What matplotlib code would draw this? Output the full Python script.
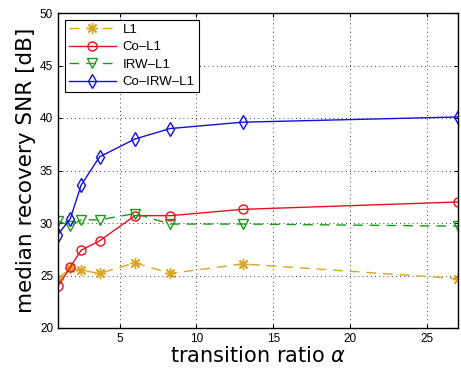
import matplotlib
matplotlib.use('Agg')
import matplotlib.pyplot as plt

# transition ratio values
alpha = [1, 1.8, 2.5, 3.7, 6, 8.3, 13, 27]

# median recovery SNR [dB]
snr_l1 = [24.7, 25.7, 25.5, 25.2, 26.2, 25.2, 26.1, 24.7]
snr_co_l1 = [24.0, 25.8, 27.4, 28.3, 30.7, 30.7, 31.3, 32.0]
snr_irw_l1 = [30.2, 29.7, 30.3, 30.3, 30.9, 29.9, 29.9, 29.7]
snr_co_irw_l1 = [28.9, 30.4, 33.6, 36.3, 38.0, 39.0, 39.6, 40.1]

labels = ['L1', 'Co\u2013L1', 'IRW\u2013L1', 'Co\u2013IRW\u2013L1']
xticks = [5, 10, 15, 20, 25]
yticks = [20, 25, 30, 35, 40, 45, 50]

fig = plt.figure(figsize=(4.61, 3.69), dpi=100)
ax = fig.add_axes([58 / 461, 41 / 369, 400 / 461, 315 / 369])

ax.plot(alpha, snr_l1, color='#DAA520', ls=(0, (7, 5)), marker=(8, 2, 0),
        ms=8, mew=1.0, lw=1.0, label=labels[0])
ax.plot(alpha, snr_co_l1, color='#E8101E', ls='-', marker='o',
        ms=6.5, mfc='none', lw=1.0, label=labels[1])
ax.plot(alpha, snr_irw_l1, color='#1A9A1A', ls=(0, (7, 5)), marker='v',
        ms=7, mfc='none', lw=1.0, label=labels[2])
ax.plot(alpha, snr_co_irw_l1, color='#1010E0', ls='-', marker='d',
        ms=7.5, mfc='none', lw=1.0, label=labels[3])

ax.set_xlim(1, 27)
ax.set_ylim(20, 50)
ax.set_xticks(xticks)
ax.set_yticks(yticks)
ax.grid(True, color='black', ls=(0, (1, 4)), lw=0.6)
ax.tick_params(direction='in', length=3, labelsize=8.5, top=True, right=True)
for lab in ax.get_xticklabels() + ax.get_yticklabels():
    lab.set_family('Liberation Sans')
for sp in ax.spines.values():
    sp.set_linewidth(1.0)

ax.set_xlabel(r'transition ratio $\alpha$', fontsize=15, labelpad=1)
ax.set_ylabel('median recovery SNR [dB]', fontsize=15.5, labelpad=3)

leg = ax.legend(loc='upper left', prop={'family': 'Liberation Sans', 'size': 9.5},
                fancybox=False, edgecolor='black', framealpha=1,
                handlelength=3.6, borderpad=0.3, labelspacing=0.4,
                handletextpad=0.5, borderaxespad=0.5)
leg.get_frame().set_linewidth(0.8)

fig.savefig('out.png', dpi=100)
